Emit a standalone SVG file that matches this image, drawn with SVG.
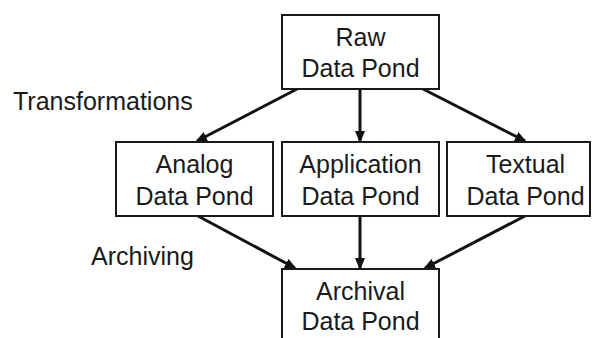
<svg xmlns="http://www.w3.org/2000/svg" width="593" height="338" viewBox="0 0 593 338">
<style>
.box{fill:#fff;stroke:#1a1a1a;stroke-width:2}
.t{font-family:"Liberation Sans",Arial,sans-serif;font-size:25px;fill:#1a1a1a;text-anchor:middle}
.l{font-family:"Liberation Sans",Arial,sans-serif;font-size:25px;fill:#1a1a1a}
.c{stroke:#111;stroke-width:3;fill:none;marker-end:url(#ah)}
</style>
<defs>
<marker id="ah" markerWidth="12" markerHeight="10" refX="10" refY="5" orient="auto" markerUnits="userSpaceOnUse">
<path d="M0,0 L12,5 L0,10 z" fill="#111"/>
</marker>
</defs>
<rect width="593" height="338" fill="#fff"/>
<g id="connectors">
<line class="c" x1="297" y1="89" x2="197" y2="141"/>
<line class="c" x1="360" y1="89" x2="360" y2="141"/>
<line class="c" x1="423" y1="89" x2="525" y2="141"/>
<line class="c" x1="198" y1="216" x2="295" y2="268"/>
<line class="c" x1="360" y1="216" x2="360" y2="268"/>
<line class="c" x1="525" y1="216" x2="425" y2="268"/>
</g>
<g id="raw">
<rect class="box" x="282" y="15" width="157" height="74"/>
<text class="t" x="360.5" y="46">Raw</text>
<text class="t" x="360.5" y="77">Data Pond</text>
</g>
<g id="analog">
<rect class="box" x="116" y="142" width="157" height="74"/>
<text class="t" x="194.5" y="173">Analog</text>
<text class="t" x="194.5" y="205">Data Pond</text>
</g>
<g id="application">
<rect class="box" x="282" y="142" width="157" height="74"/>
<text class="t" x="360.5" y="173">Application</text>
<text class="t" x="360.5" y="205">Data Pond</text>
</g>
<g id="textual">
<rect class="box" x="447" y="142" width="143" height="74"/>
<text class="t" x="525.5" y="173">Textual</text>
<text class="t" x="525.5" y="205">Data Pond</text>
</g>
<g id="archival">
<rect class="box" x="282" y="269" width="157" height="80"/>
<text class="t" x="360.5" y="300">Archival</text>
<text class="t" x="360.5" y="330">Data Pond</text>
</g>
<g id="labels">
<text class="l" x="13" y="110">Transformations</text>
<text class="l" x="91" y="265">Archiving</text>
</g>
</svg>
